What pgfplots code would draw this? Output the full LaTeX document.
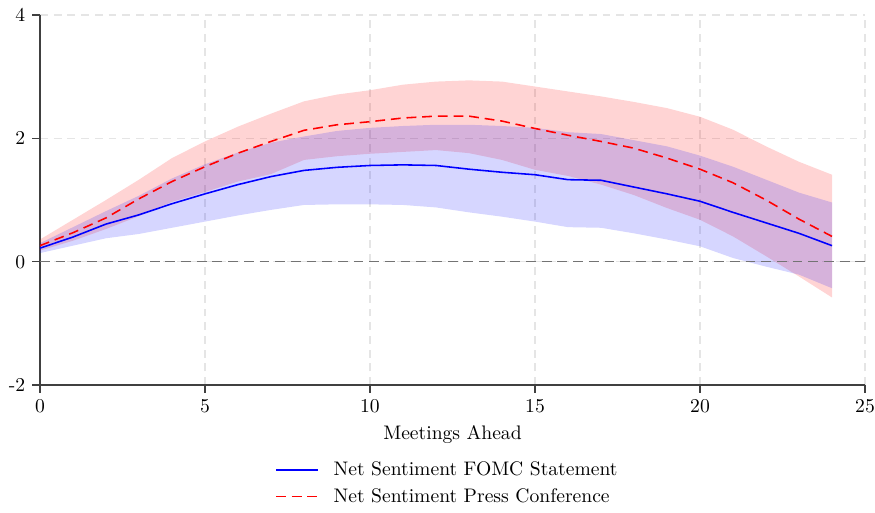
\documentclass[border=0pt]{standalone}
\usepackage{pgfplots}
\pgfplotsset{compat=1.18}
\usepackage{pgfplotstable}
\usepgfplotslibrary{fillbetween}

\pgfplotstableread{
x  b     bl     bu    r     rl     ru
0  0.22  0.14  0.30  0.26  0.18  0.36
1  0.40  0.26  0.56  0.47  0.34  0.68
2  0.61  0.38  0.82  0.71  0.53  1.00
3  0.76  0.45  1.07  1.02  0.74  1.33
4  0.94  0.55  1.35  1.30  0.97  1.68
5  1.10  0.65  1.58  1.54  1.13  1.95
6  1.25  0.75  1.77  1.76  1.30  2.19
7  1.38  0.84  1.93  1.95  1.42  2.40
8  1.48  0.92  2.03  2.13  1.65  2.60
9  1.53  0.93  2.12  2.22  1.71  2.71
10 1.56  0.93  2.17  2.27  1.75  2.78
11 1.57  0.92  2.20  2.33  1.78  2.87
12 1.56  0.88  2.22  2.36  1.81  2.92
13 1.50  0.80  2.22  2.36  1.76  2.94
14 1.45  0.73  2.20  2.28  1.65  2.92
15 1.41  0.65  2.17  2.16  1.49  2.84
16 1.33  0.56  2.10  2.05  1.39  2.76
17 1.32  0.55  2.07  1.95  1.25  2.68
18 1.21  0.46  1.97  1.84  1.08  2.59
19 1.10  0.36  1.87  1.68  0.87  2.49
20 0.98  0.25  1.72  1.50  0.68  2.35
21 0.80  0.06  1.54  1.28  0.41  2.14
22 0.63 -0.08  1.33  1.00  0.09  1.87
23 0.46 -0.21  1.12  0.69 -0.24  1.62
24 0.26 -0.43  0.96  0.41 -0.58  1.41
}\data

\begin{document}
\begin{tikzpicture}
\begin{axis}[
  scale only axis,
  width=420.9pt, height=188.8pt,
  xmin=0, xmax=25, ymin=-2, ymax=4,
  xtick={0,5,10,15,20,25},
  ytick={-2,0,2,4},
  yticklabels={-2,0,2,4},
  axis lines=left,
  axis line style={-, black!75, line width=0.7pt},
  tick align=outside,
  tick style={black!75, line width=0.6pt},
  major tick length=4pt,
  grid=major,
  grid style={dashed, black!10, line width=0.6pt, dash pattern=on 4pt off 3pt},
  xlabel={Meetings Ahead},
  legend style={at={(0.495,-0.185)}, anchor=north, draw=none, fill=none,
    row sep=1pt, font=\normalsize},
  legend cell align=left,
  legend image code/.code={\draw[#1] (0pt,0pt) -- (21.4pt,0pt); \path (27pt,0pt);},
  legend entries={Net Sentiment FOMC Statement, Net Sentiment Press Conference},
]
\addlegendimage{blue, line width=0.8pt}
\addlegendimage{red, line width=0.8pt, dash pattern=on 5pt off 3pt}
\addplot[draw=none, name path=ru, forget plot] table[x=x,y=ru]{\data};
\addplot[draw=none, name path=rl, forget plot] table[x=x,y=rl]{\data};
\addplot[red, fill opacity=0.17, draw=none, forget plot] fill between[of=ru and rl];
\addplot[draw=none, name path=bu, forget plot] table[x=x,y=bu]{\data};
\addplot[draw=none, name path=bl, forget plot] table[x=x,y=bl]{\data};
\addplot[blue, fill opacity=0.16, draw=none, forget plot] fill between[of=bu and bl];
\addplot[black!55, line width=0.8pt, dash pattern=on 5pt off 3pt, forget plot] coordinates {(0,0) (25,0)};
\addplot[blue, line width=0.8pt, forget plot] table[x=x,y=b]{\data};
\addplot[red, line width=0.8pt, dash pattern=on 5pt off 3pt, forget plot] table[x=x,y=r]{\data};
\end{axis}
\pgfresetboundingbox
\useasboundingbox (-20.4pt,-64.8pt) rectangle (426pt,196.45pt);
\end{tikzpicture}
\end{document}
